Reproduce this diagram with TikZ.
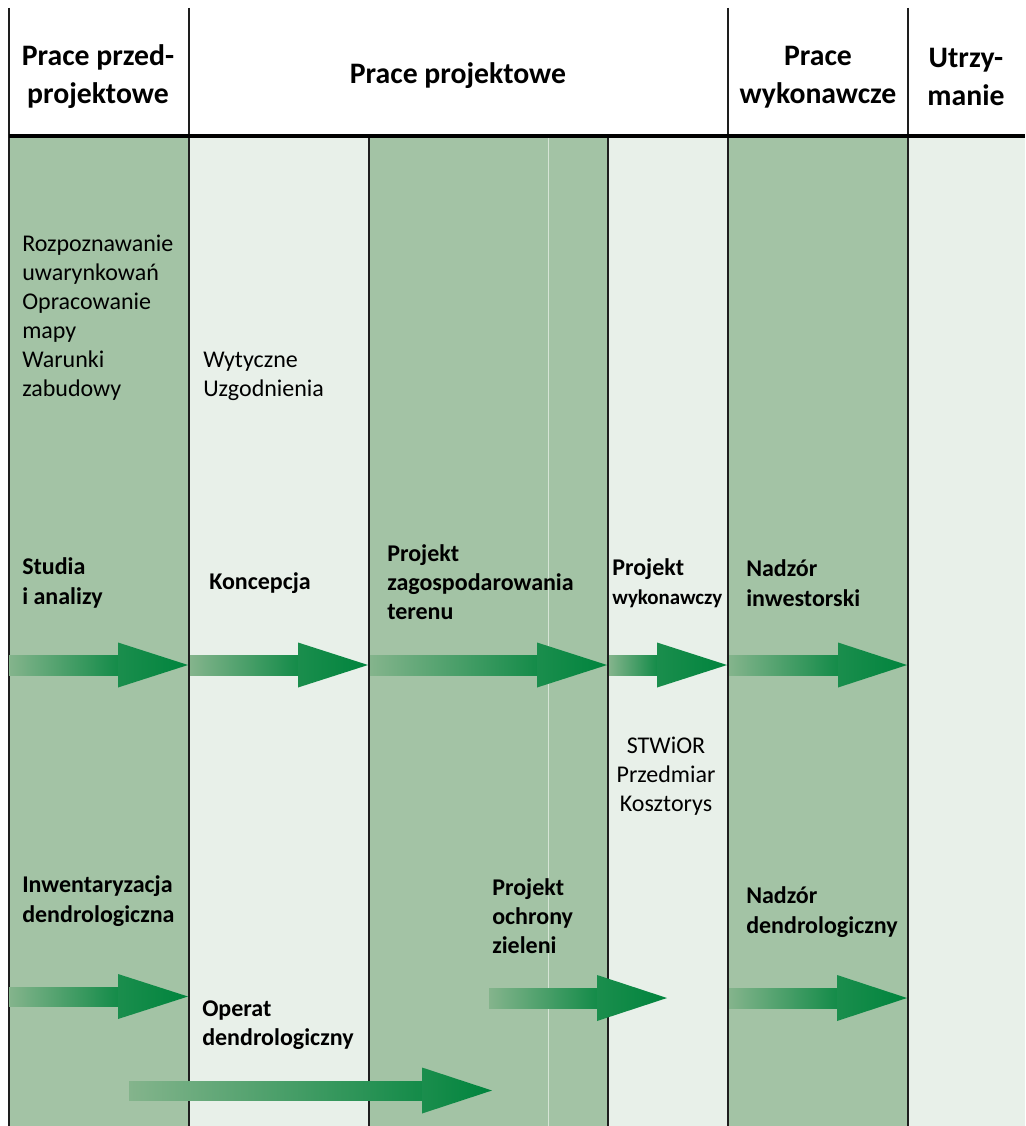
\documentclass[tikz,border=0pt]{standalone}
\usepackage{fontspec}
\setmainfont{Carlito}
\definecolor{bandDark}{RGB}{163,195,165}
\definecolor{bandLight}{RGB}{232,240,233}
\definecolor{arrowGreen}{RGB}{0,132,61}
\definecolor{arrowPale}{RGB}{132,180,140}
\definecolor{ruleGray}{RGB}{30,30,30}
\tikzset{
  phase/.style={font=\fontsize{22.3}{28.5}\selectfont\bfseries, align=center, inner sep=0pt},
  note/.style={font=\fontsize{18}{21.75}\selectfont, align=left, inner sep=0pt, anchor=west},
  task/.style={font=\fontsize{18}{22}\selectfont\bfseries, align=left, inner sep=0pt, anchor=west},
  shaft/.style={left color=arrowPale, right color=arrowGreen!85!arrowPale},
  head/.style={left color=arrowGreen!80!arrowPale, right color=arrowGreen},
  colline/.style={ruleGray, line width=1.2pt}
}
\begin{document}
\begin{tikzpicture}[x=0.75pt, y=-0.75pt]

    \useasboundingbox (0,0) rectangle (1025,1126);

    % Column bands
    \fill[bandDark] (9,136) rectangle (189,1126);
    \fill[bandLight] (189,136) rectangle (369,1126);
    \fill[bandDark] (369,136) rectangle (608,1126);
    \fill[bandLight] (608,136) rectangle (728,1126);
    \fill[bandDark] (728,136) rectangle (908,1126);
    \fill[bandLight] (908,136) rectangle (1025,1126);
    \draw[white!55!bandDark, line width=0.7pt] (548,136) -- (548,1126);

    % Header and column lines
    \draw[colline] (9,8) -- (9,1126);
    \draw[colline] (189,8) -- (189,1126);
    \draw[colline] (369,136) -- (369,1126);
    \draw[colline] (608,136) -- (608,1126);
    \draw[colline] (728,8) -- (728,1126);
    \draw[colline] (908,8) -- (908,1126);
    \draw[black, line width=2.6pt] (9,136) -- (1025,136);

    % Phase titles
    \node (pre) [phase] at (98,77) {Prace przed-\\projektowe};
    \node (design) [phase] at (458,76) {Prace projektowe};
    \node (build) [phase] at (818,77) {Prace\\wykonawcze};
    \node (care) [phase] at (966,77) {Utrzy-\\manie};

    % Notes
    \node (survey) [note] at (22,318) {Rozpoznawanie\\uwarynkowań\\Opracowanie\\mapy\\Warunki\\zabudowy};
    \node (guide) [note] at (203,376) {Wytyczne\\Uzgodnienia};
    \node (specs) [note, align=center, anchor=center] at (666,776) {STWiOR\\Przedmiar\\Kosztorys};

    % Tasks, upper row
    \node (study) [task] at (22,583) {Studia\\i analizy};
    \node (concept) [task] at (209,583) {Koncepcja};
    \node (site) [task] at (387,582) {Projekt\\zagospodarowania\\terenu};
    \node (exec) [task] at (612,583) {Projekt\\{\fontsize{15.7}{18}\selectfont wykonawczy}};
    \node (invsup) [task] at (746,583) {Nadzór\\inwestorski};

    % Tasks, lower row
    \node (inv) [task] at (22,901) {Inwentaryzacja\\dendrologiczna};
    \node (protect) [task] at (492,916) {Projekt\\ochrony\\zieleni};
    \node (dendsup) [task] at (746,912) {Nadzór\\dendrologiczny};
    \node (operat) [task] at (202,1025) {Operat\\dendrologiczny};

    % Arrows, upper row
    \shade[shaft] (9,655) rectangle (118,675);
    \shade[head] (118,642.5) -- (188,665) -- (118,687.5) -- cycle;
    \shade[shaft] (190,655) rectangle (298,675);
    \shade[head] (298,642.5) -- (368,665) -- (298,687.5) -- cycle;
    \shade[shaft] (370,655) rectangle (537,675);
    \shade[head] (537,642.5) -- (607,665) -- (537,687.5) -- cycle;
    \shade[shaft] (609,655) rectangle (657,675);
    \shade[head] (657,642.5) -- (727,665) -- (657,687.5) -- cycle;
    \shade[shaft] (729,655) rectangle (838,675);
    \shade[head] (838,642.5) -- (907,665) -- (838,687.5) -- cycle;

    % Arrows, lower rows
    \shade[shaft] (9,987) rectangle (118,1006);
    \shade[head] (118,974) -- (188,996.5) -- (118,1019) -- cycle;
    \shade[shaft] (489,988) rectangle (597,1008);
    \shade[head] (597,975) -- (667,998) -- (597,1021) -- cycle;
    \shade[shaft] (729,988) rectangle (837,1008);
    \shade[head] (837,975) -- (907,998) -- (837,1021) -- cycle;
    \shade[shaft] (129,1081) rectangle (422,1100);
    \shade[head] (422,1067.5) -- (492,1090.5) -- (422,1113.5) -- cycle;

\end{tikzpicture}
\end{document}
